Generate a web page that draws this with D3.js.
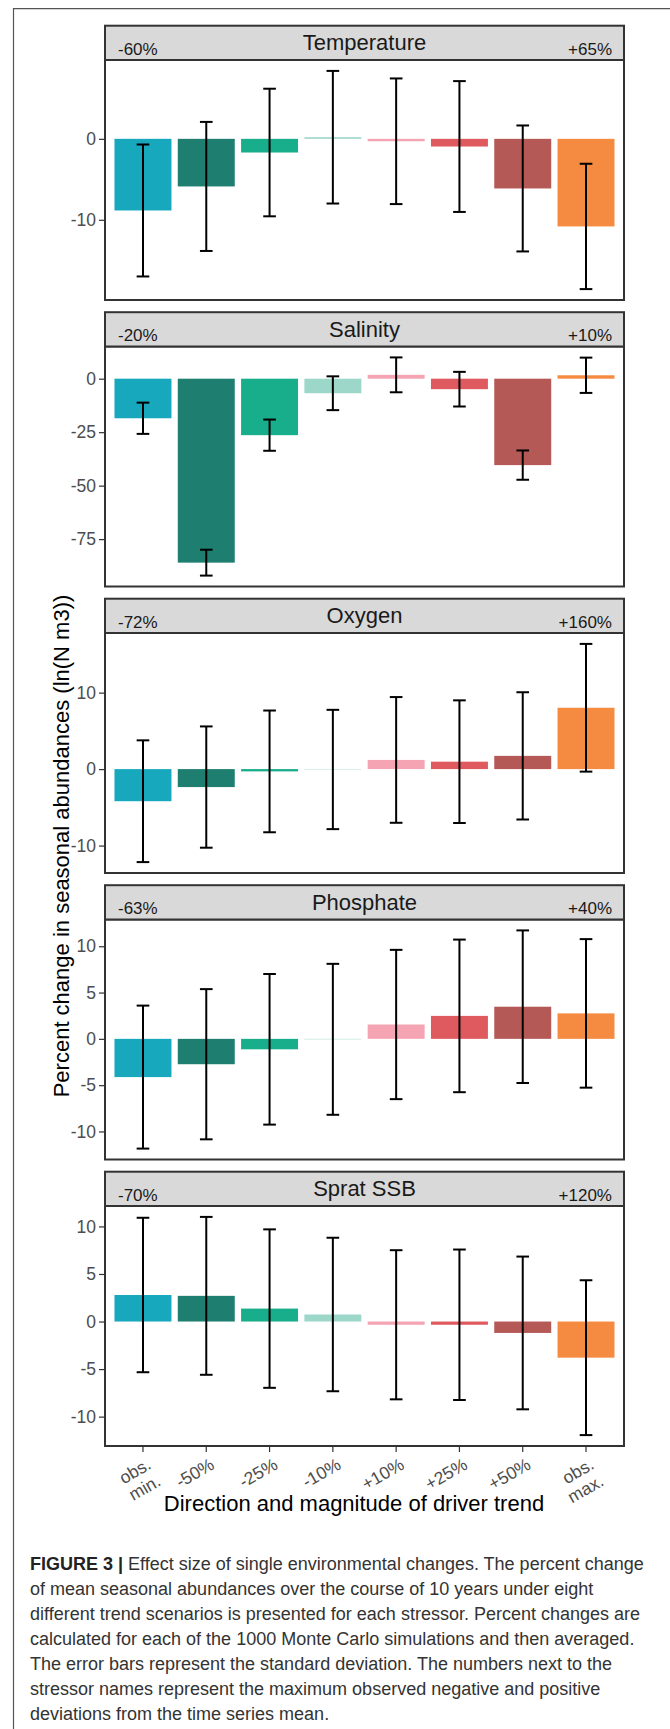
<!DOCTYPE html>
<html>
<head>
<meta charset="utf-8">
<script src="https://cdn.jsdelivr.net/npm/d3@7"></script>
<style>
    body { margin: 0; background: #fff; }
    svg text { font-family: "Liberation Sans", Arial, Helvetica, sans-serif; }
</style>
</head>
<body>
<div id="chart"></div>
<script>
// scenarios on the x axis (line breaks marked with \n)
const scenarios = ["obs.\nmin.", "-50%", "-25%", "-10%", "+10%", "+25%", "+50%", "obs.\nmax."];
const barColors = ["#17a8be", "#1e7f71", "#18ad8b", "#9dd7ca", "#f4a4b2", "#de5a5e", "#b55957", "#f58b41"];

// stressors (facets) and the observed extremes shown in the strips
const stressors = ["Temperature", "Salinity", "Oxygen", "Phosphate", "Sprat SSB"];
const obsMinLabels = ["-60%", "-20%", "-72%", "-63%", "-70%"];
const obsMaxLabels = ["+65%", "+10%", "+160%", "+40%", "+120%"];

// mean percent change and standard deviation per scenario
const temperatureMean = [-8.85, -5.88, -1.69, 0.2, -0.3, -0.95, -6.13, -10.82];
const temperatureSd   = [8.15, 7.97, 7.88, 8.19, 7.76, 8.08, 7.78, 7.74];
const salinityMean    = [-18.5, -86.0, -26.4, -6.8, 1.8, -4.9, -40.4, 1.6];
const salinitySd      = [7.3, 6.05, 7.3, 7.9, 8.15, 8.1, 6.85, 8.25];
const oxygenMean      = [-4.2, -2.35, -0.3, -0.05, 1.2, 0.97, 1.73, 8.02];
const oxygenSd        = [7.96, 7.93, 7.96, 7.8, 8.22, 8.02, 8.32, 8.35];
const phosphateMean   = [-4.13, -2.74, -1.13, -0.05, 1.55, 2.48, 3.47, 2.75];
const phosphateSd     = [7.72, 8.11, 8.13, 8.15, 8.06, 8.24, 8.24, 8.02];
const spratMean       = [2.79, 2.7, 1.36, 0.74, -0.34, -0.34, -1.2, -3.8];
const spratSd         = [8.12, 8.3, 8.33, 8.07, 7.84, 7.91, 8.03, 8.14];

// y tick labels per facet
const temperatureTicks = [-10, 0];
const salinityTicks    = [-75, -50, -25, 0];
const oxygenTicks      = [-10, 0, 10];
const phosphateTicks   = [-10, -5, 0, 5, 10];
const spratTicks       = [-10, -5, 0, 5, 10];

const allMeans = [temperatureMean, salinityMean, oxygenMean, phosphateMean, spratMean];
const allSds = [temperatureSd, salinitySd, oxygenSd, phosphateSd, spratSd];
const allTicks = [temperatureTicks, salinityTicks, oxygenTicks, phosphateTicks, spratTicks];

const caption = [
    "of mean seasonal abundances over the course of 10 years under eight",
    "different trend scenarios is presented for each stressor. Percent changes are",
    "calculated for each of the 1000 Monte Carlo simulations and then averaged.",
    "The error bars represent the standard deviation. The numbers next to the",
    "stressor names represent the maximum observed negative and positive",
    "deviations from the time series mean."
];

// facet geometry
const layout = {left: 105, right: 624, stripTop: 25.7, panelStep: 286.5, stripH: 34.3, plotH: 240};

class FacetPanel {

    constructor(svg, index, showXAxis) {
        this.svg = svg;
        this.index = index;
        this.showXAxis = showXAxis;

        this.initVis();
    }

    initVis() {
        let vis = this;

        vis.top = layout.stripTop + vis.index * layout.panelStep;
        vis.plotTop = vis.top + layout.stripH;
        vis.plotBottom = vis.plotTop + layout.plotH;

        vis.g = vis.svg.append("g").attr("class", "facet");

        // x scale like ggplot's discrete axis (0.6 expansion, width 0.9)
        vis.xScale = d3.scaleBand()
            .domain(scenarios)
            .range([layout.left, layout.right])
            .paddingInner(0.1)
            .paddingOuter(0.15);

        vis.yScale = d3.scaleLinear()
            .range([vis.plotBottom, vis.plotTop]);

        vis.wrangleData();
    }

    wrangleData() {
        let vis = this;

        let means = allMeans[vis.index], sds = allSds[vis.index];
        vis.rows = scenarios.map((s, i) => ({scenario: s, mean: means[i], sd: sds[i], color: barColors[i]}));

        // free y limits, expanded 5% like ggplot
        let lo = d3.min(vis.rows, d => Math.min(0, d.mean - d.sd));
        let hi = d3.max(vis.rows, d => Math.max(0, d.mean + d.sd));
        let pad = (hi - lo) * 0.05;
        vis.yScale.domain([lo - pad, hi + pad]);

        vis.updateVis();
    }

    updateVis() {
        let vis = this;
        let bw = vis.xScale.bandwidth();
        let capHalf = vis.xScale.step() * 0.1;

        // bars
        vis.g.selectAll("rect.bar")
            .data(vis.rows)
            .enter()
            .append("rect")
            .attr("class", "bar")
            .attr("x", d => vis.xScale(d.scenario))
            .attr("y", d => vis.yScale(Math.max(0, d.mean)))
            .attr("width", bw)
            .attr("height", d => Math.abs(vis.yScale(d.mean) - vis.yScale(0)))
            .attr("fill", d => d.color);

        // error bars (mean +- sd)
        let err = vis.g.selectAll("g.err")
            .data(vis.rows)
            .enter()
            .append("g")
            .attr("class", "err")
            .attr("transform", d => "translate(" + (vis.xScale(d.scenario) + bw / 2) + ",0)")
            .attr("stroke", "#000")
            .attr("stroke-width", 2);
        err.append("line")
            .attr("y1", d => vis.yScale(d.mean + d.sd))
            .attr("y2", d => vis.yScale(d.mean - d.sd));
        err.append("line")
            .attr("x1", -capHalf).attr("x2", capHalf)
            .attr("y1", d => vis.yScale(d.mean + d.sd))
            .attr("y2", d => vis.yScale(d.mean + d.sd));
        err.append("line")
            .attr("x1", -capHalf).attr("x2", capHalf)
            .attr("y1", d => vis.yScale(d.mean - d.sd))
            .attr("y2", d => vis.yScale(d.mean - d.sd));

        // panel border
        vis.g.append("rect")
            .attr("x", layout.left)
            .attr("y", vis.plotTop)
            .attr("width", layout.right - layout.left)
            .attr("height", layout.plotH)
            .attr("fill", "none")
            .attr("stroke", "#333")
            .attr("stroke-width", 2);

        // y axis
        let yAxis = d3.axisLeft(vis.yScale)
            .tickValues(allTicks[vis.index])
            .tickFormat(d => String(d))
            .tickSize(6)
            .tickPadding(3);
        let yg = vis.g.append("g")
            .attr("transform", "translate(" + layout.left + ",0)")
            .call(yAxis);
        yg.select(".domain").remove();
        yg.selectAll(".tick line").attr("stroke", "#333").attr("stroke-width", 1.2);
        yg.selectAll(".tick text")
            .attr("fill", "#4d4d4d")
            .style("font-size", "17.5px");

        // strip
        vis.g.append("rect")
            .attr("x", layout.left)
            .attr("y", vis.top)
            .attr("width", layout.right - layout.left)
            .attr("height", layout.stripH)
            .attr("fill", "#d9d9d9")
            .attr("stroke", "#333")
            .attr("stroke-width", 2);
        vis.g.append("text")
            .attr("x", (layout.left + layout.right) / 2)
            .attr("y", vis.top + 24.5)
            .attr("text-anchor", "middle")
            .attr("fill", "#1a1a1a")
            .style("font-size", "22px")
            .text(stressors[vis.index]);
        vis.g.append("text")
            .attr("x", layout.left + 13)
            .attr("y", vis.top + 29)
            .attr("fill", "#1a1a1a")
            .style("font-size", "17px")
            .text(obsMinLabels[vis.index]);
        vis.g.append("text")
            .attr("x", layout.right - 12)
            .attr("y", vis.top + 29)
            .attr("text-anchor", "end")
            .attr("fill", "#1a1a1a")
            .style("font-size", "17px")
            .text(obsMaxLabels[vis.index]);

        if (vis.showXAxis) {
            let xAxis = d3.axisBottom(vis.xScale).tickSize(6).tickFormat("");
            let xg = vis.g.append("g")
                .attr("transform", "translate(0," + vis.plotBottom + ")")
                .call(xAxis);
            xg.select(".domain").remove();
            xg.selectAll(".tick line").attr("stroke", "#333").attr("stroke-width", 1.2);

            // rotated, possibly two-line labels
            let labels = vis.g.selectAll("text.xlab")
                .data(scenarios)
                .enter()
                .append("text")
                .attr("class", "xlab")
                .attr("transform", d => "translate(" + (vis.xScale(d) + bw / 2 + 3) + "," + (vis.plotBottom + 11) + ") rotate(-30)")
                .attr("text-anchor", "end")
                .attr("fill", "#4d4d4d")
                .style("font-size", "17.5px");
            labels.selectAll("tspan")
                .data(d => d.split("\n"))
                .enter()
                .append("tspan")
                .attr("x", 0)
                .attr("dy", (d, i) => i === 0 ? "0.72em" : "1.1em")
                .text(d => d);
        }
    }
}

const width = 670, height = 1729;
const svg = d3.select("#chart")
    .append("svg")
    .attr("width", width)
    .attr("height", height);

// outer figure frame (left and top edges visible)
svg.append("path")
    .attr("d", "M13.5," + height + "V8.7H" + width)
    .attr("fill", "none")
    .attr("stroke", "#555")
    .attr("stroke-width", 1.2);

stressors.forEach((s, i) => new FacetPanel(svg, i, i === stressors.length - 1));

// axis titles
svg.append("text")
    .attr("transform", "translate(69,846) rotate(-90)")
    .attr("text-anchor", "middle")
    .attr("fill", "#000")
    .style("font-size", "22px")
    .text("Percent change in seasonal abundances (ln(N m3))");
svg.append("text")
    .attr("x", 354)
    .attr("y", 1511)
    .attr("text-anchor", "middle")
    .attr("fill", "#000")
    .style("font-size", "22px")
    .text("Direction and magnitude of driver trend");

// caption
let first = svg.append("text")
    .attr("x", 30)
    .attr("y", 1570)
    .attr("fill", "#333")
    .style("font-size", "18px");
first.append("tspan").style("font-weight", "bold").attr("fill", "#222").text("FIGURE 3 | ");
first.append("tspan").text("Effect size of single environmental changes. The percent change");
svg.selectAll("text.caption")
    .data(caption)
    .enter()
    .append("text")
    .attr("class", "caption")
    .attr("x", 30)
    .attr("y", (d, i) => 1595 + i * 25)
    .attr("fill", "#333")
    .style("font-size", "18px")
    .text(d => d);
</script>
</body>
</html>
